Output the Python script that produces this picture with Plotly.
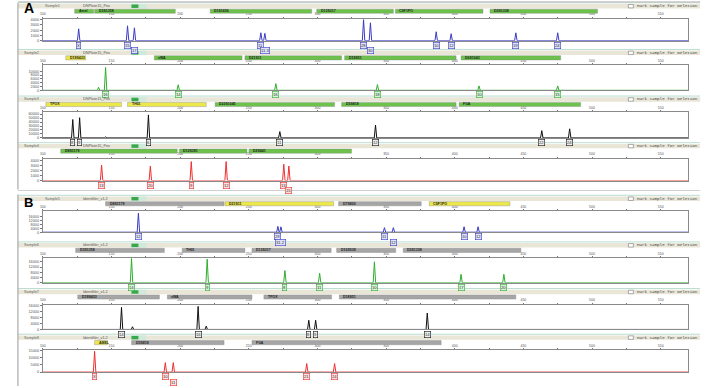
import plotly.graph_objects as go

W, H = 723, 388
X0, X1 = 40, 688
BP_MIN, BP_MAX = 100, 570

# ---------------- data ----------------
panel_names = ["A1", "A2", "A3", "A4", "B1", "B2", "B3", "B4"]
dye_colors = ["#3b3bc4", "#2fae2f", "#111111", "#ee3030", "#3b3bc4", "#2fae2f", "#111111", "#ee3030"]
label_fill = ["#dfe2fb", "#d9f3d9", "#eeeeee", "#fde0e0", "#dfe2fb", "#d9f3d9", "#eeeeee", "#fde0e0"]
sample_names = ["DNPlate15_Pos"] * 4 + ["Identifiler_v1.2"] * 4

y_max = [4150, 13000, 65000, 4360, 21400, 18900, 16600, 15300]
y_ticks = [
    [0, 1000, 2000, 3000, 4000],
    [0, 2000, 4000, 6000, 8000, 10000],
    [0, 10000, 20000, 30000, 40000, 50000, 60000],
    [0, 1000, 2000, 3000, 4000],
    [0, 4000, 8000, 12000, 16000],
    [0, 4000, 8000, 12000, 16000],
    [0, 4000, 8000, 12000, 16000],
    [0, 5000, 10000, 15000],
]

peak_bp = [
    [126.1, 161.7, 166.7, 258.8, 261.7, 333.6, 338.6, 386.5, 397.4, 444.5, 475.0],
    [140.6, 145.7, 198.6, 269.7, 343.7, 417.7, 475.0],
    [121.8, 126.8, 145.7, 176.9, 272.6, 342.3, 463.4, 483.7],
    [142.8, 178.3, 208.1, 233.5, 275.5, 279.2],
    [169.6, 271.2, 273.4, 348.8, 355.3, 406.8, 417.0],
    [164.6, 219.7, 276.3, 301.6, 341.5, 404.6, 435.8],
    [157.3, 165.3, 213.1, 219.0, 293.7, 298.7, 380.0],
    [137.7, 189.2, 195.0, 292.2, 312.5],
]
peak_height = [
    [2260, 2830, 2450, 1510, 1400, 4000, 3400, 1700, 1320, 1500, 1500],
    [1600, 12000, 2900, 3500, 3000, 2300, 2300],
    [46400, 51000, 2500, 58000, 16000, 32500, 18500, 23000],
    [3090, 2900, 3800, 3800, 3270, 2900],
    [19500, 6000, 5500, 4650, 4650, 5600, 5600],
    [18500, 18000, 9400, 7300, 16000, 6500, 6500],
    [14800, 1800, 15400, 2200, 6150, 6150, 11000],
    [14600, 6650, 6650, 6000, 6000],
]
peak_allele = [
    ["X", "15", "17", "11", "11.3", "28", "30", "10", "12", "19", "24"],
    ["", "16", "14", "16", "18", "10", "15"],
    ["8", "9", "", "6", "11", "12", "22", "24"],
    ["13", "20", "9", "12", "13", "15"],
    ["12", "29", "31.2", "11", "12", "10", "12"],
    ["14", "9", "8", "11", "10", "17", "20"],
    ["14", "", "16", "", "8", "9", "14"],
    ["X", "10", "11", "21", "24"],
]
peak_row = [
    [0, 0, 1, 0, 1, 0, 1, 0, 0, 0, 0],
    [0, 0, 0, 0, 0, 0, 0],
    [0, 0, 0, 0, 0, 0, 0, 0],
    [0, 0, 0, 0, 0, 1],
    [0, 0, 1, 0, 1, 0, 0],
    [0, 0, 0, 0, 0, 0, 0],
    [0, 0, 0, 0, 0, 0, 0],
    [0, 0, 1, 0, 0],
]

locus_names = [
    ["Amel", "D3S1358", "D1S1656", "D13S317", "CSF1PO", "D2S1338"],
    ["D19S433", "vWA", "D21S11", "D18S51", "D6S1043"],
    ["TPOX", "TH01", "D22S1045", "D5S818", "FGA"],
    ["D8S1179", "D12S391", "D2S441"],
    ["D8S1179", "D21S11", "D7S820", "CSF1PO"],
    ["D3S1358", "TH01", "D13S317", "D16S539", "D2S1338"],
    ["D19S433", "vWA", "TPOX", "D18S51"],
    ["AMEL", "D5S818", "FGA"],
]
locus_start = [
    [123.2, 137.7, 221.9, 299.5, 356.8, 425.7],
    [116.7, 181.2, 247.2, 319.8, 404.6],
    [102.2, 161.7, 225.5, 317.6, 403.2],
    [113.0, 199.4, 250.1],
    [145.7, 232.7, 315.4, 381.4],
    [123.9, 201.5, 252.3, 314.0, 362.5],
    [125.4, 190.7, 261.0, 316.0],
    [137.7, 164.6, 252.3],
]
locus_end = [
    [137.0, 196.5, 295.8, 355.3, 420.6, 504.0],
    [131.2, 245.1, 317.6, 401.0, 477.2],
    [157.3, 219.0, 312.5, 401.0, 491.7],
    [197.9, 248.7, 324.8],
    [232.0, 311.8, 375.6, 440.2],
    [188.5, 247.2, 310.0, 357.0, 448.2],
    [184.9, 252.3, 310.3, 444.5],
    [147.1, 232.0, 390.1],
]
locus_color = [
    ["g", "g", "g", "g", "g", "g"],
    ["y", "g", "g", "g", "g"],
    ["y", "y", "g", "g", "g"],
    ["g", "g", "g"],
    ["k", "y", "k", "y"],
    ["k", "k", "k", "k", "k"],
    ["k", "k", "k", "k"],
    ["y", "k", "k"],
]
x_ticks = [100, 150, 200, 250, 300, 350, 400, 450, 500, 550]

# ---------------- layout geometry (pixels) ----------------
axis_top = [18, 65, 112, 159, 212, 259, 306, 352]
axis_base = [40, 90, 138, 181, 233, 284, 331, 374]

BAR_COL = {"g": "#6cc24a", "y": "#ece84a", "k": "#a6a6a6"}


def px(x):
    return x / W


def py(y):
    return 1 - y / H


fig = go.Figure()
shapes = []
annotations = []
half_w = 0.9

for i in range(8):
    n = i + 1
    xa = "x" if n == 1 else f"x{n}"
    ya = "y" if n == 1 else f"y{n}"
    col = dye_colors[i]
    at = axis_top[i]
    ly0, ly1 = at - 9.8, at - 5.6
    hy0, hy1 = ly0 - 5.2, ly0 - 0.7

    # trace: baseline + narrow triangular peaks
    order = sorted(range(len(peak_bp[i])), key=lambda k: peak_bp[i][k])
    xs, ys = [BP_MIN], [0]
    for k in order:
        p, h = peak_bp[i][k], peak_height[i][k]
        xs += [p - half_w, p, p + half_w]
        ys += [0, h, 0]
    xs.append(BP_MAX)
    ys.append(0)
    fig.add_trace(go.Scatter(x=xs, y=ys, mode="lines", line=dict(color=col, width=1),
                             xaxis=xa, yaxis=ya, showlegend=False, hoverinfo="skip"))

    fig.layout[("xaxis" if n == 1 else f"xaxis{n}")] = dict(
        domain=[px(X0), px(X1)], range=[BP_MIN, BP_MAX], anchor=ya, side="top",
        tickvals=x_ticks, ticktext=[str(t) for t in x_ticks], ticks="outside", ticklen=1,
        tickcolor="#777", tickfont=dict(size=3.5, color="#555", family="Liberation Sans"),
        minor=dict(tickvals=[t + 25 for t in x_ticks], ticks="outside", ticklen=1, tickcolor="#777"),
        showgrid=False, zeroline=False, showline=True, linecolor="#8a8a8a", linewidth=1, mirror=True,
        fixedrange=True,
    )
    fig.layout[("yaxis" if n == 1 else f"yaxis{n}")] = dict(
        domain=[py(axis_base[i]), py(at)], range=[0, y_max[i]], anchor=xa,
        tickvals=y_ticks[i], tickformat="d", ticks="outside", ticklen=2, tickcolor="#777",
        tickfont=dict(size=3.8, color="#555", family="Liberation Sans"),
        showgrid=False, zeroline=False, showline=True, linecolor="#8a8a8a", linewidth=1, mirror=True,
        fixedrange=True,
    )

    # header strip
    shapes.append(dict(type="line", xref="paper", yref="paper", x0=px(15), x1=px(700),
                       y0=py(hy0 - 1.2), y1=py(hy0 - 1.2), line=dict(color="#b9ddd3", width=1)))
    shapes.append(dict(type="rect", xref="paper", yref="paper", x0=px(15), x1=px(700),
                       y0=py(hy1), y1=py(hy0), fillcolor="#e9e6d8", line=dict(width=0)))
    shapes.append(dict(type="rect", xref="paper", yref="paper", x0=px(128), x1=px(144),
                       y0=py(hy1), y1=py(hy0), fillcolor="#cfe9da", line=dict(width=0)))
    shapes.append(dict(type="rect", xref="paper", yref="paper", x0=px(129), x1=px(136),
                       y0=py(hy1 - 0.5), y1=py(hy0 + 0.5), fillcolor="#3aa84a", line=dict(width=0)))
    left_x = 40 if i in (0, 4) else 19
    annotations.append(dict(text="Sample" + str(n), xref="paper", yref="paper", x=px(left_x),
                            y=py((hy0 + hy1) / 2), xanchor="left", yanchor="middle", showarrow=False,
                            font=dict(size=3.8, color="#666", family="Liberation Sans")))
    annotations.append(dict(text=sample_names[i], xref="paper", yref="paper", x=px(78), y=py((hy0 + hy1) / 2),
                            xanchor="left", yanchor="middle", showarrow=False,
                            font=dict(size=3.8, color="#555", family="Liberation Sans")))
    shapes.append(dict(type="rect", xref="paper", yref="paper", x0=px(628), x1=px(633),
                       y0=py(hy1 - 0.5), y1=py(hy0 + 0.5), fillcolor="white", line=dict(color="#777", width=0.6)))
    annotations.append(dict(text="Mark Sample for Deletion", xref="paper", yref="paper", x=px(635),
                            y=py((hy0 + hy1) / 2), xanchor="left", yanchor="middle", showarrow=False,
                            font=dict(size=4.2, color="#444", family="Liberation Mono")))

    # locus bars
    for nm, s, e, c in zip(locus_names[i], locus_start[i], locus_end[i], locus_color[i]):
        shapes.append(dict(type="rect", xref=xa, yref="paper", x0=s, x1=e, y0=py(ly1), y1=py(ly0),
                           fillcolor=BAR_COL[c], line=dict(color="#888", width=0.4)))
        annotations.append(dict(text="<b>" + nm + "</b>", xref=xa, yref="paper", x=s + 1.5,
                                y=py((ly0 + ly1) / 2), xanchor="left", yanchor="middle", showarrow=False,
                                font=dict(size=3.5, color="#222", family="Liberation Sans")))

    # allele labels
    for p, a, r in zip(peak_bp[i], peak_allele[i], peak_row[i]):
        if not a:
            continue
        ypix = axis_base[i] + 1.2 + r * 5.5
        annotations.append(dict(text=a, xref=xa, yref="paper", x=p, y=py(ypix),
                                xanchor="center", yanchor="top", showarrow=False,
                                font=dict(size=4.2, color="#333", family="Liberation Sans"),
                                bgcolor=label_fill[i], bordercolor=col, borderwidth=0.6, borderpad=0.3))

# panel frame lines
shapes.append(dict(type="line", xref="paper", yref="paper", x0=px(15), x1=px(15), y0=py(2), y1=py(190),
                   line=dict(color="#9a9a9a", width=1)))
shapes.append(dict(type="line", xref="paper", yref="paper", x0=px(15), x1=px(15), y0=py(195), y1=py(388),
                   line=dict(color="#9a9a9a", width=1)))
shapes.append(dict(type="line", xref="paper", yref="paper", x0=px(15), x1=px(700), y0=py(191), y1=py(191),
                   line=dict(color="#d0d0d0", width=1)))
shapes.append(dict(type="line", xref="paper", yref="paper", x0=px(15), x1=px(700), y0=py(1), y1=py(1),
                   line=dict(color="#c4c4c4", width=1.5)))

annotations.append(dict(text="<b>A</b>", xref="paper", yref="paper", x=px(20), y=py(16.5), xanchor="left",
                        yanchor="bottom", showarrow=False, borderpad=0,
                        font=dict(size=14, color="black", family="Liberation Sans")))
annotations.append(dict(text="<b>B</b>", xref="paper", yref="paper", x=px(20), y=py(211.5), xanchor="left",
                        yanchor="bottom", showarrow=False, borderpad=0,
                        font=dict(size=13, color="black", family="Liberation Sans")))

fig.update_layout(width=W, height=H, margin=dict(l=0, r=0, t=0, b=0), paper_bgcolor="white",
                  plot_bgcolor="white", shapes=shapes, annotations=annotations, showlegend=False)

fig.write_html("out.html")
